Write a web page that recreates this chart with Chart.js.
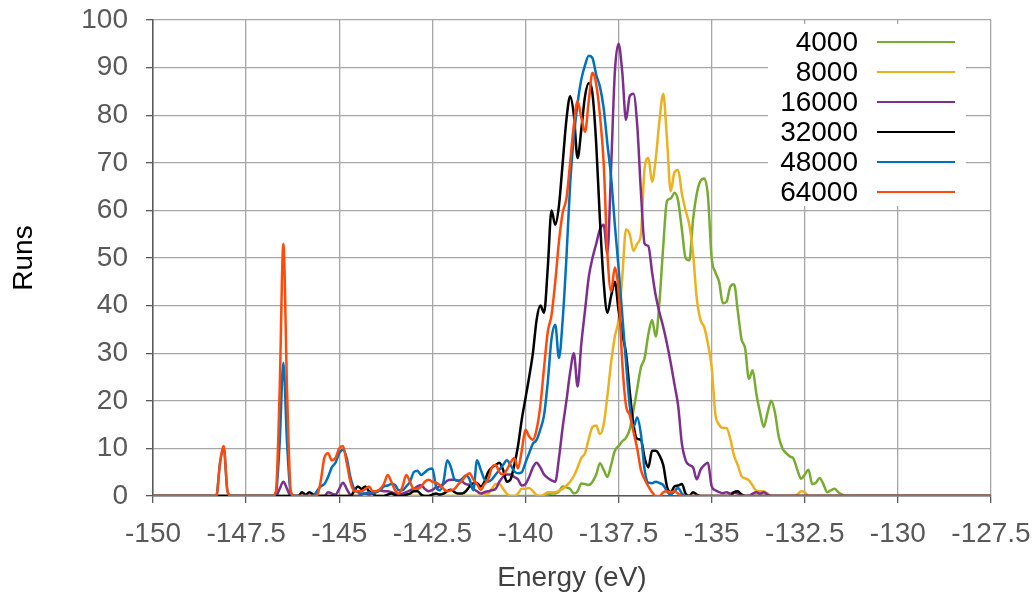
<!DOCTYPE html>
<html lang="en">
<head>
<meta charset="UTF-8">
<title>Runs vs Energy</title>
<script src="https://cdn.jsdelivr.net/npm/chart.js"></script>
<style>
    html, body { margin: 0; padding: 0; background: #fff; }
    #wrap { width: 1036px; height: 597px; }
</style>
</head>
<body>
<div id="wrap"><canvas id="energyChart" width="1036" height="597"></canvas></div>
<script>
// Energy histograms, 0.1 eV bins, one series per run length
const binStep = 0.1;
const xMin = -150, xMax = -127.5;
const xTicks = [-150, -147.5, -145, -142.5, -140, -137.5, -135, -132.5, -130, -127.5];
const yTicks = [0, 10, 20, 30, 40, 50, 60, 70, 80, 90, 100];
const seriesLabels = ['4000', '8000', '16000', '32000', '48000', '64000'];

// each series: energy of the first bin, then counts per bin
const start4000 = -139.5;
const runs4000 = [0, 0.3, 0.5, 0.5, 1, 2, 1.8, 1.5, 0.5, 1,
    2.6, 2.5, 2.3, 3, 4.5, 6.9, 5.5, 4, 6.5, 9.5,
    10.5, 11.5, 12.2, 14, 18, 22.5, 27, 29, 34, 37,
    33.5, 41, 52.5, 62, 62.5, 63.7, 62, 56, 50, 49.5,
    58, 63.5, 66.2, 66.7, 63, 50, 47, 45, 40.5, 40.8,
    44, 44.5, 39, 33, 31, 24.6, 26.4, 21.5, 17.5, 14.5,
    17.5, 20, 17.5, 12.5, 10, 9, 8.3, 7.8, 5.5, 3.6,
    4.5, 5.5, 2.5, 2.8, 3.8, 2.5, 0.8, 1.2, 1.5, 0.8,
    0.3, 0];

const start8000 = -141.2;
const runs8000 = [0, 0.3, 0.5, 1.5, 2.5, 2.5, 1.5, 0.5, 0, 0,
    0.5, 1.5, 1.5, 1.7, 1, 0.2, 0, 0.3, 0.8, 0.8,
    0.8, 1.1, 1.5, 2.2, 3, 4.2, 6, 8, 9, 12,
    14.5, 14.8, 13, 15, 21, 28, 33.5, 37, 46, 56,
    55, 51.5, 53, 55, 69, 71, 66, 71, 79, 84.5,
    75, 64, 68, 68.5, 63.5, 60, 57, 51, 41.5, 37,
    35.5, 32, 27, 17.2, 15, 14.3, 14.3, 12, 8.5, 6.5,
    4.2, 3.7, 3.3, 2.2, 1.1, 1, 1, 0.5, 0, 0,
    0, 0, 0, 0, 0, 0.3, 1, 0.8, 0];

const start16000 = -146.7;
const runs16000 = [0, 1.5, 3, 1.5, 0,
    0, 0, 0, 0, 0, 0, 0, 0, 0,
    0.8, 0.5, 0.3, 1.5, 2.8, 1.5, 0.2, 0, 0, 0.3,
    0.5, 0.3, 0.5, 1, 1.2, 1, 1, 0.8, 0.5, 0.3,
    0.5, 0.8, 1.2, 1.5, 2, 2.3, 1.5, 1, 1.3, 1.8,
    2, 2.5, 3.2, 3.4, 3.4, 3.2, 3, 2.5, 2.3, 1.5,
    1, 0.5, 0.8, 1, 1.2, 1.5, 3, 4, 4.5, 4.5,
    4, 3.5, 2.2, 2.5, 4, 6, 7, 6, 4.5, 3.8,
    3.3, 3, 8, 14.5, 20, 26, 30, 23, 32, 39,
    46, 50, 53, 56, 57, 51, 69, 89, 95, 89,
    79, 84, 84.5, 78, 64, 53, 52.5, 47, 42, 38.5,
    35.5, 32, 28, 23.5, 19, 11, 7.5, 6.5, 6, 3.5,
    5.5, 6.5, 7, 2, 1.2, 0.8, 0.6, 0.8, 0.5, 0.8,
    0.5, 0.3, 0, 0, 0.5, 0.8, 0.5, 0.8, 0.3, 0];

const start32000 = -146.1;
const runs32000 = [0, 0.8, 0.3, 0.8, 0.3, 0, 0, 0, 0, 0,
    0, 0, 0, 0, 0, 1, 2, 1.5, 2, 1,
    0.5, 0, 0, 0, 0.3, 0.5, 0.2, 0, 0, 0.3,
    0.5, 1, 1, 0.3, 0, 0, 0.3, 0.5, 0.3, 0.5,
    1, 1.3, 0.8, 0.5, 0.5, 1, 2, 2.7, 2.7, 2,
    3, 5, 6, 6.5, 7, 5.5, 3, 3.5, 6.5, 10.5,
    16, 20.5, 25, 30, 37, 40, 38.5, 48, 60, 57,
    61, 70, 79, 84, 80, 71, 77, 84, 86.7, 84.5,
    74, 58, 45, 38.5, 42, 45, 39, 34, 30, 22,
    15, 12, 11.8, 8, 6, 9.5, 9.5, 8.5, 6.5, 2,
    0.8, 2, 2.2, 2.5, 0.5, 0, 0.8, 0.3, 0, 0,
    0, 0, 0, 0, 0, 0, 0, 0.8, 1, 0.3,
    0];

const start48000 = -148.4;
const runs48000 = [0, 0, 7, 10, 1, 0,
    0, 0, 0, 0, 0, 0, 0, 0, 0, 0, 0,
    0.5, 11, 28, 11, 0.5, 0,
    0, 0, 0, 0, 0, 1,
    2, 2.5, 4, 6, 7, 9, 9.7, 8, 4, 1.5,
    0.8, 0.5, 0.5, 0.8, 0.5, 0.8, 1.2, 2, 2.2, 2.5,
    2.3, 1.2, 1.2, 2, 3, 5, 5.3, 4.4, 5, 5.6,
    5.8, 2, 1.2, 3, 7.5, 6, 3.4, 3.2, 3.6, 4.3,
    3.5, 1.2, 7.5, 5.5, 3.5, 3, 3.5, 4.5, 5.5, 6.5,
    7.5, 6.5, 5.2, 4.8, 5, 7, 9, 11, 11.8, 14,
    17, 24, 33, 36, 29, 37, 50, 65.5, 75.5, 82.5,
    87.5, 90.5, 92.5, 92, 88.5, 86, 81.5, 74, 67, 57,
    48, 38, 28, 19, 14.5, 16.5, 13, 5.5, 2.8, 2.7,
    3, 2.7, 2.3, 1, 0.3, 1, 1.7, 0.5, 0];

const start64000 = -148.4;
const runs64000 = [0, 0, 7, 10.5, 1, 0,
    0, 0, 0, 0, 0, 0, 0, 0, 0, 0, 0,
    1, 22, 53, 22, 1, 0,
    0, 0, 0, 0, 0, 0,
    3, 8, 9, 7.5, 8, 10, 10.5, 7, 3, 1,
    1, 1, 1.5, 2, 1, 1, 1.5, 2.5, 4.4, 3,
    1.2, 0.5, 2, 4.4, 3, 1.5, 1.5, 2, 3, 3.4,
    3, 2.8, 2.3, 1.5, 1, 1.2, 1.5, 2.5, 3.2, 4.3,
    4.8, 3.5, 2.5, 1.3, 2.5, 3.5, 6, 6.5, 5, 4.5,
    5.5, 7, 8, 5.8, 9.5, 13.9, 12.5, 11.8, 14, 19,
    27, 34.5, 38, 45, 53.5, 59.5, 62.5, 70, 78, 83,
    79.5, 76.5, 83, 88.9, 86.5, 80, 70, 51, 43, 48,
    43, 28, 19, 17, 13.5, 10, 5.5, 3.5, 2, 0.8,
    0, 0, 0.8, 1, 0.8, 1, 0.5, 0];

const seriesStarts = [start4000, start8000, start16000, start32000, start48000, start64000];
const seriesRuns = [runs4000, runs8000, runs16000, runs32000, runs48000, runs64000];
const seriesColors = ['#77ac30', '#edb120', '#7e2f8e', '#000000', '#0072bd', '#ff4a0a'];

// bins -> points, with the zero baseline running out to both axis ends
function toPoints(start, runs) {
    const pts = [{ x: xMin, y: 0 }];
    runs.forEach((v, i) => {
        pts.push({ x: Math.round((start + i * binStep) * 10) / 10, y: v });
    });
    pts.push({ x: xMax, y: 0 });
    return pts;
}

const FONT = '"Liberation Sans", Arial, sans-serif';
Chart.defaults.font.family = FONT;
Chart.defaults.font.size = 28;

// tick labels may hang outside the plot; don't let them shrink it
function noLabelPadding(s) {
    s.paddingTop = 0;
    s.paddingBottom = 0;
    s.paddingLeft = 0;
    s.paddingRight = 0;
}

// legend drawn inside the plot, text left of the line sample
const legendInside = {
    id: 'legendInside',
    afterDraw(chart) {
        const ctx = chart.ctx;
        ctx.save();
        ctx.fillStyle = '#ffffff';
        ctx.fillRect(768, 24, 198, 182);
        ctx.font = '28px ' + FONT;
        ctx.textAlign = 'right';
        ctx.textBaseline = 'middle';
        chart.data.datasets.forEach((ds, i) => {
            const y = 42 + i * 30;
            ctx.fillStyle = '#000000';
            ctx.fillText(ds.label, 858, y + 1);
            ctx.strokeStyle = ds.borderColor;
            ctx.lineWidth = 2;
            ctx.beginPath();
            ctx.moveTo(877, y);
            ctx.lineTo(955, y);
            ctx.stroke();
        });
        ctx.restore();
    }
};

new Chart(document.getElementById('energyChart'), {
    type: 'line',
    data: {
        datasets: seriesLabels.map((label, i) => ({
            label: label,
            data: toPoints(seriesStarts[i], seriesRuns[i]),
            borderColor: seriesColors[i],
            backgroundColor: seriesColors[i],
            borderWidth: 2.5,
            pointRadius: 0,
            fill: false,
            cubicInterpolationMode: 'monotone',
            order: seriesLabels.length - i
        }))
    },
    options: {
        responsive: false,
        animation: false,
        layout: { padding: { top: 20, right: 45, left: 0, bottom: 0 } },
        plugins: {
            legend: { display: false },
            tooltip: { enabled: false }
        },
        scales: {
            x: {
                type: 'linear',
                min: xMin,
                max: xMax,
                afterBuildTicks: s => { s.ticks = xTicks.map(v => ({ value: v })); },
                afterFit: s => { s.height = 101; noLabelPadding(s); },
                ticks: {
                    color: '#595959',
                    padding: 14,
                    maxRotation: 0,
                    autoSkip: false,
                    callback: v => String(v)
                },
                grid: { color: '#a6a6a6', lineWidth: 1.3, tickLength: 7, tickColor: '#595959' },
                border: { color: '#595959', width: 1.5 },
                title: {
                    display: true,
                    text: 'Energy (eV)',
                    color: '#404040',
                    padding: { top: 0, bottom: 2 }
                }
            },
            y: {
                min: 0,
                max: 100,
                afterBuildTicks: s => { s.ticks = yTicks.map(v => ({ value: v })); },
                afterFit: s => { s.width = 153; noLabelPadding(s); },
                ticks: { color: '#595959', padding: 18 },
                grid: { color: '#a6a6a6', lineWidth: 1.3, tickLength: 7, tickColor: '#595959' },
                border: { color: '#595959', width: 1.5 },
                title: {
                    display: true,
                    text: 'Runs',
                    color: '#000000',
                    padding: { top: 7, bottom: 0 }
                }
            }
        }
    },
    plugins: [legendInside]
});
</script>
</body>
</html>
